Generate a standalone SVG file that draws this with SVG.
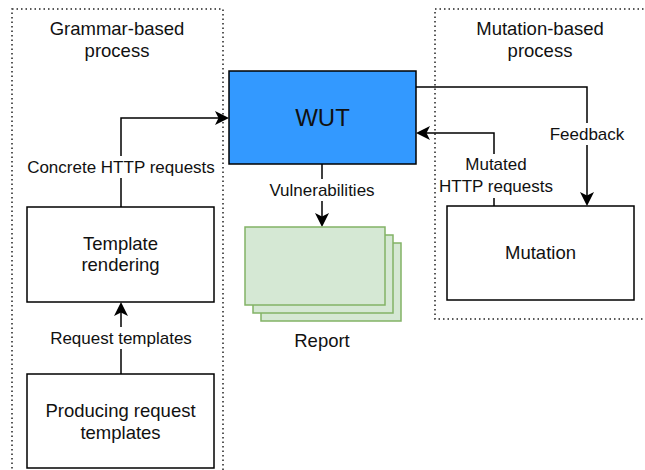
<svg xmlns="http://www.w3.org/2000/svg" width="645" height="470" viewBox="0 0 645 470">
<style>
text{font-family:"Liberation Sans",Arial,sans-serif;fill:#111;text-anchor:middle}
.group{fill:none;stroke:#222;stroke-width:1.5;stroke-dasharray:1.5 3}
.box{fill:#fff;stroke:#000;stroke-width:1.5}
.rep{fill:#d5e8d4;stroke:#82b366;stroke-width:1.5}
.t18{font-size:18.5px}
.lbl{font-size:17px}
.edge{fill:none;stroke:#000;stroke-width:1.5}
.bg{fill:#fff}
</style>
<defs>
<marker id="arr" markerUnits="userSpaceOnUse" markerWidth="14" markerHeight="14" viewBox="0 0 14 14" refX="10" refY="7" orient="auto">
<path d="M0,0 L14,7 L0,14 L3.5,7 Z" fill="#000"/>
</marker>
</defs>
<rect width="645" height="470" fill="#fff"/>
<g id="grammar-group">
<rect class="group" x="12" y="9" width="211" height="480"/>
<text class="t18" x="117" y="35">Grammar-based</text>
<text class="t18" x="117" y="57">process</text>
</g>
<g id="mutation-group">
<rect class="group" x="435" y="9" width="230" height="310"/>
<text class="t18" x="540" y="35">Mutation-based</text>
<text class="t18" x="540" y="57">process</text>
</g>
<g id="connectors">
<path class="edge" d="M121,207 V118 H225" marker-end="url(#arr)"/>
<path class="edge" d="M121,374 V306" marker-end="url(#arr)"/>
<path class="edge" d="M322,164 V223" marker-end="url(#arr)"/>
<path class="edge" d="M416,87 H587 V202" marker-end="url(#arr)"/>
<path class="edge" d="M494,206 V133 H420" marker-end="url(#arr)"/>
<rect class="bg" x="25" y="156" width="192" height="22"/>
<text class="lbl" x="121" y="173">Concrete HTTP requests</text>
<rect class="bg" x="48" y="327" width="146" height="22"/>
<text class="lbl" x="121" y="344">Request templates</text>
<rect class="bg" x="266" y="179" width="112" height="22"/>
<text class="lbl" x="322" y="196">Vulnerabilities</text>
<rect class="bg" x="548" y="123" width="78" height="22"/>
<text class="lbl" x="587" y="140">Feedback</text>
<rect class="bg" x="436" y="154" width="122" height="44"/>
<text class="lbl" x="496" y="170">Mutated</text>
<text class="lbl" x="496" y="192">HTTP requests</text>
</g>
<g id="wut">
<rect x="229" y="71" width="187" height="93" fill="#3399ff" stroke="#000" stroke-width="1.5"/>
<text x="322.5" y="126" font-size="24">WUT</text>
</g>
<g id="report">
<rect class="rep" x="261" y="243" width="140" height="78"/>
<rect class="rep" x="253" y="235" width="140" height="78"/>
<rect class="rep" x="245" y="227" width="140" height="78"/>
<text class="t18" x="322" y="347">Report</text>
</g>
<g id="template-rendering">
<rect class="box" x="27" y="207" width="187" height="95"/>
<text class="t18" x="120.5" y="250">Template</text>
<text class="t18" x="120.5" y="271">rendering</text>
</g>
<g id="producing">
<rect class="box" x="27" y="374" width="187" height="94"/>
<text class="t18" x="120.5" y="417">Producing request</text>
<text class="t18" x="120.5" y="439">templates</text>
</g>
<g id="mutation">
<rect class="box" x="447" y="206" width="187" height="94"/>
<text class="t18" x="540.5" y="259">Mutation</text>
</g>
</svg>
